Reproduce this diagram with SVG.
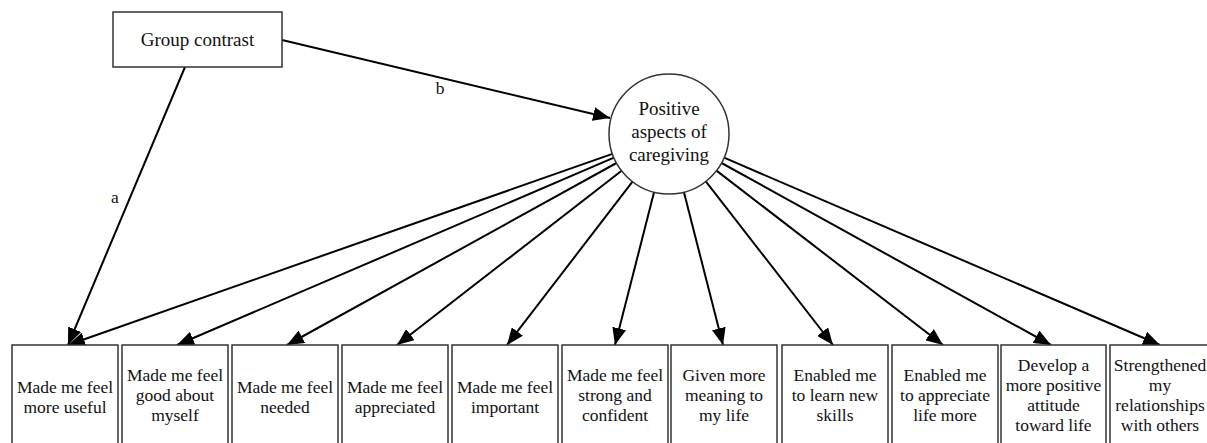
<svg xmlns="http://www.w3.org/2000/svg" width="1207" height="443" viewBox="0 0 1207 443" font-family="Liberation Serif, DejaVu Serif, Times New Roman, serif">
<style>
.box{fill:#fff;stroke:#333;stroke-width:1.5}
.t{font-size:17.5px;fill:#111;text-anchor:middle}
.tc{font-size:19px;fill:#111;text-anchor:middle}
.c{stroke:#000;stroke-width:2;fill:none;marker-end:url(#ah)}
</style>
<defs>
<marker id="ah" markerUnits="userSpaceOnUse" markerWidth="18" markerHeight="14" refX="17" refY="7" orient="auto">
<path d="M0,0 L17,7 L0,14 z" fill="#000"/>
</marker>
</defs>
<rect width="1207" height="443" fill="#fff"/>
<g id="connectors">
<line class="c" x1="185" y1="67" x2="68" y2="345"/>
<line class="c" x1="282" y1="40" x2="610" y2="118"/>
<line class="c" x1="612.4" y1="153.9" x2="68" y2="345"/>
<line class="c" x1="613.9" y1="157.7" x2="177" y2="345"/>
<line class="c" x1="616.5" y1="163" x2="287" y2="345"/>
<line class="c" x1="621.6" y1="170.8" x2="397" y2="345"/>
<line class="c" x1="632.5" y1="181.6" x2="507" y2="345"/>
<line class="c" x1="654.1" y1="192.1" x2="615" y2="345"/>
<line class="c" x1="683.9" y1="192.1" x2="723" y2="345"/>
<line class="c" x1="705.8" y1="181.4" x2="833" y2="345"/>
<line class="c" x1="716.5" y1="170.6" x2="943" y2="345"/>
<line class="c" x1="721.5" y1="163" x2="1051" y2="345"/>
<line class="c" x1="724.1" y1="157.7" x2="1160" y2="345"/>
<text class="t" x="115" y="203">a</text>
<text class="t" x="440" y="94">b</text>
</g>
<g id="group-contrast">
<rect class="box" x="113" y="12" width="169" height="55"/>
<text class="tc" x="197.5" y="46">Group contrast</text>
</g>
<g id="pac">
<circle cx="669" cy="134" r="60" fill="#fff" stroke="#333" stroke-width="1.5"/>
<text class="tc" x="669" y="115">Positive</text>
<text class="tc" x="669" y="138">aspects of</text>
<text class="tc" x="669" y="161">caregiving</text>
</g>
<g id="item1"><rect class="box" x="12" y="345" width="106" height="110"/><text class="t" x="65" y="393">Made me feel</text><text class="t" x="65" y="413">more useful</text></g>
<g id="item2"><rect class="box" x="122" y="345" width="106" height="110"/><text class="t" x="175" y="381">Made me feel</text><text class="t" x="175" y="401">good about</text><text class="t" x="175" y="421">myself</text></g>
<g id="item3"><rect class="box" x="232" y="345" width="106" height="110"/><text class="t" x="285" y="393">Made me feel</text><text class="t" x="285" y="413">needed</text></g>
<g id="item4"><rect class="box" x="342" y="345" width="106" height="110"/><text class="t" x="395" y="393">Made me feel</text><text class="t" x="395" y="413">appreciated</text></g>
<g id="item5"><rect class="box" x="452" y="345" width="106" height="110"/><text class="t" x="505" y="393">Made me feel</text><text class="t" x="505" y="413">important</text></g>
<g id="item6"><rect class="box" x="562" y="345" width="106" height="110"/><text class="t" x="615" y="381">Made me feel</text><text class="t" x="615" y="401">strong and</text><text class="t" x="615" y="421">confident</text></g>
<g id="item7"><rect class="box" x="671" y="345" width="106" height="110"/><text class="t" x="724" y="381">Given more</text><text class="t" x="724" y="401">meaning to</text><text class="t" x="724" y="421">my life</text></g>
<g id="item8"><rect class="box" x="782" y="345" width="106" height="110"/><text class="t" x="835" y="381">Enabled me</text><text class="t" x="835" y="401">to learn new</text><text class="t" x="835" y="421">skills</text></g>
<g id="item9"><rect class="box" x="892" y="345" width="106" height="110"/><text class="t" x="945" y="381">Enabled me</text><text class="t" x="945" y="401">to appreciate</text><text class="t" x="945" y="421">life more</text></g>
<g id="item10"><rect class="box" x="1001" y="345" width="105" height="110"/><text class="t" x="1053.5" y="371">Develop a</text><text class="t" x="1053.5" y="391">more positive</text><text class="t" x="1053.5" y="411">attitude</text><text class="t" x="1053.5" y="431">toward life</text></g>
<g id="item11"><rect class="box" x="1110" y="345" width="106" height="110"/><text class="t" x="1160" y="371">Strengthened</text><text class="t" x="1160" y="391">my</text><text class="t" x="1160" y="411">relationships</text><text class="t" x="1160" y="431">with others</text></g>
</svg>
